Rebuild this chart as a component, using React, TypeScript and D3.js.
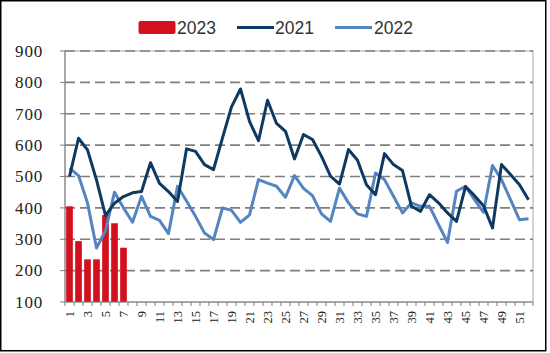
import React from 'react';
import * as d3 from 'd3';

// constants
const width = 550;
const height = 353;
const plot = { left: 65, right: 533, top: 51, bottom: 302 };

const weeks = d3.range(1, 53);
const yTicks = [100, 200, 300, 400, 500, 600, 700, 800, 900];

// 2023 bars (weeks 1-7)
const values2023 = [405, 294, 236, 236, 377, 351, 273];

const values2021 = [
  500, 622, 585, 489, 375, 415, 436, 448, 452, 544,
  478, 452, 420, 588, 580, 538, 522, 623, 722, 779,
  676, 614, 743, 669, 644, 556, 634, 618, 564, 501,
  476, 586, 552, 474, 442, 573, 538, 519, 405, 389,
  442, 416, 384, 357, 468, 439, 407, 336, 538, 506,
  474, 426,
];

const values2022 = [
  527, 503, 416, 272, 327, 450, 400, 354, 437, 373,
  360, 318, 469, 422, 373, 320, 299, 400, 392, 354,
  378, 490, 479, 469, 434, 503, 462, 439, 381, 357,
  463, 416, 381, 373, 511, 490, 437, 384, 416, 405,
  405, 347, 290, 453, 469, 426, 386, 535, 490, 426,
  362, 365,
];

const colors = { y2023: '#d2101e', y2021: '#0e3a62', y2022: '#5585c0' };

const App = () => {
  const xScale = d3.scaleBand<number>()
    .domain(weeks)
    .range([plot.left, plot.right])
    .paddingInner(0.26)
    .paddingOuter(0.13);
  const step = xScale.step();
  const cx = (w: number) => (xScale(w) as number) + xScale.bandwidth() / 2;

  const yScale = d3.scaleLinear().domain([100, 900]).range([plot.bottom, plot.top]);

  const line = d3.line<number>()
    .x((d, i) => cx(weeks[i]))
    .y(d => yScale(d));

  const axisFont = "'Liberation Serif', 'Times New Roman', serif";

  return (
    <div style={{ position: 'fixed', left: 0, top: 0 }}>
      <svg width={width} height={height} style={{ display: 'block', background: '#fff' }}>
        <rect x={0.75} y={0.75} width={545} height={350} fill="#fff" stroke="#000" strokeWidth={1.5} />

        {/* plot area frame */}
        <rect x={plot.left} y={plot.top} width={plot.right - plot.left} height={plot.bottom - plot.top}
          fill="none" stroke="#a6a6a6" strokeWidth={1} />

        {/* gridlines */}
        {yTicks.filter(t => t > 100).map(t => (
          <line key={t} x1={plot.left} x2={plot.right} y1={yScale(t)} y2={yScale(t)}
            stroke="#7f7f7f" strokeWidth={1.6} strokeDasharray="10,5" />
        ))}

        {/* y axis */}
        <line x1={plot.left} x2={plot.left} y1={plot.top} y2={plot.bottom} stroke="#7f7f7f" />
        {yTicks.map(t => (
          <g key={t}>
            <line x1={plot.left - 5} x2={plot.left} y1={yScale(t)} y2={yScale(t)} stroke="#7f7f7f" />
            <text x={43} y={yScale(t)} dy="0.34em" textAnchor="end" fontFamily={axisFont}
              fontSize={17} letterSpacing={0.8} fill="#222">{t}</text>
          </g>
        ))}

        {/* bars 2023 */}
        {values2023.map((d, i) => (
          <rect key={i} x={xScale(weeks[i])} y={yScale(d)} width={xScale.bandwidth()}
            height={yScale(100) - yScale(d)} fill={colors.y2023} />
        ))}

        {/* lines */}
        <path d={line(values2022) as string} fill="none" stroke={colors.y2022} strokeWidth={3} strokeLinejoin="round" />
        <path d={line(values2021) as string} fill="none" stroke={colors.y2021} strokeWidth={3} strokeLinejoin="round" />

        {/* x axis */}
        <line x1={plot.left} x2={plot.right} y1={plot.bottom} y2={plot.bottom} stroke="#7f7f7f" />
        {d3.range(0, weeks.length + 1).map(i => (
          <line key={i} x1={plot.left + i * step} x2={plot.left + i * step}
            y1={plot.bottom} y2={plot.bottom + 4} stroke="#7f7f7f" />
        ))}
        {weeks.filter(w => w % 2 === 1).map(w => (
          <g key={w} transform={`translate(${cx(w)},${311})`}>
            <text transform="rotate(-90)" dy="0.35em" textAnchor="end"
              fontFamily={axisFont} fontSize={12.5} fill="#222">{w}</text>
          </g>
        ))}

        {/* legend */}
        <g fontFamily="'Liberation Sans', Arial, sans-serif" fontSize={17.5} fill="#333">
          <rect x={138.5} y={21} width={37} height={13} rx={2} fill={colors.y2023} />
          <text x={177} y={34}>2023</text>
          <line x1={237} x2={274} y1={27.5} y2={27.5} stroke={colors.y2021} strokeWidth={3} />
          <text x={275} y={34}>2021</text>
          <line x1={335} x2={372} y1={27.5} y2={27.5} stroke={colors.y2022} strokeWidth={3} />
          <text x={374} y={34}>2022</text>
        </g>
      </svg>
    </div>
  );
};

export default App;
